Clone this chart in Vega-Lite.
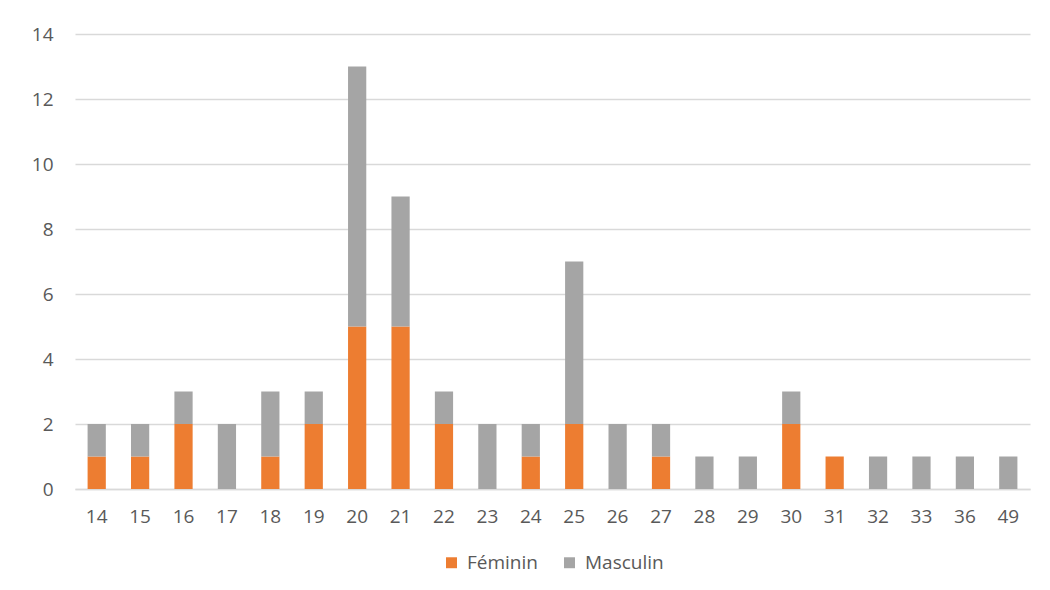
{
  "$schema": "https://vega.github.io/schema/vega-lite/v6.json",
  "autosize": "none",
  "width": 955,
  "height": 455,
  "padding": {"left": 75, "top": 34, "right": 20, "bottom": 101},
  "background": "white",
  "data": {
    "values": [
      {"age": "14", "sexe": "Féminin", "n": 1}, {"age": "14", "sexe": "Masculin", "n": 1},
      {"age": "15", "sexe": "Féminin", "n": 1}, {"age": "15", "sexe": "Masculin", "n": 1},
      {"age": "16", "sexe": "Féminin", "n": 2}, {"age": "16", "sexe": "Masculin", "n": 1},
      {"age": "17", "sexe": "Féminin", "n": 0}, {"age": "17", "sexe": "Masculin", "n": 2},
      {"age": "18", "sexe": "Féminin", "n": 1}, {"age": "18", "sexe": "Masculin", "n": 2},
      {"age": "19", "sexe": "Féminin", "n": 2}, {"age": "19", "sexe": "Masculin", "n": 1},
      {"age": "20", "sexe": "Féminin", "n": 5}, {"age": "20", "sexe": "Masculin", "n": 8},
      {"age": "21", "sexe": "Féminin", "n": 5}, {"age": "21", "sexe": "Masculin", "n": 4},
      {"age": "22", "sexe": "Féminin", "n": 2}, {"age": "22", "sexe": "Masculin", "n": 1},
      {"age": "23", "sexe": "Féminin", "n": 0}, {"age": "23", "sexe": "Masculin", "n": 2},
      {"age": "24", "sexe": "Féminin", "n": 1}, {"age": "24", "sexe": "Masculin", "n": 1},
      {"age": "25", "sexe": "Féminin", "n": 2}, {"age": "25", "sexe": "Masculin", "n": 5},
      {"age": "26", "sexe": "Féminin", "n": 0}, {"age": "26", "sexe": "Masculin", "n": 2},
      {"age": "27", "sexe": "Féminin", "n": 1}, {"age": "27", "sexe": "Masculin", "n": 1},
      {"age": "28", "sexe": "Féminin", "n": 0}, {"age": "28", "sexe": "Masculin", "n": 1},
      {"age": "29", "sexe": "Féminin", "n": 0}, {"age": "29", "sexe": "Masculin", "n": 1},
      {"age": "30", "sexe": "Féminin", "n": 2}, {"age": "30", "sexe": "Masculin", "n": 1},
      {"age": "31", "sexe": "Féminin", "n": 1}, {"age": "31", "sexe": "Masculin", "n": 0},
      {"age": "32", "sexe": "Féminin", "n": 0}, {"age": "32", "sexe": "Masculin", "n": 1},
      {"age": "33", "sexe": "Féminin", "n": 0}, {"age": "33", "sexe": "Masculin", "n": 1},
      {"age": "36", "sexe": "Féminin", "n": 0}, {"age": "36", "sexe": "Masculin", "n": 1},
      {"age": "49", "sexe": "Féminin", "n": 0}, {"age": "49", "sexe": "Masculin", "n": 1}
    ]
  },
  "mark": {"type": "bar"},
  "encoding": {
    "x": {
      "field": "age", "type": "ordinal", "sort": null,
      "scale": {"paddingInner": 0.58, "paddingOuter": 0.29},
      "axis": {"title": null, "labelAngle": 0, "ticks": false, "domainColor": "#d9d9d9", "domainWidth": 1.5, "labelPadding": 18, "labelFontSize": 19, "labelColor": "#595959", "labelFont": "Open Sans"}
    },
    "y": {
      "field": "n", "type": "quantitative", "stack": "zero",
      "scale": {"domain": [0, 14], "nice": false},
      "axis": {"title": null, "values": [0, 2, 4, 6, 8, 10, 12, 14], "domain": false, "ticks": false, "gridColor": "#d9d9d9", "gridWidth": 1.5, "labelPadding": 22, "labelFontSize": 19, "labelColor": "#595959", "labelFont": "Open Sans"}
    },
    "color": {
      "field": "sexe", "type": "nominal",
      "scale": {"domain": ["Féminin", "Masculin"], "range": ["#ED7D31", "#A5A5A5"]},
      "legend": {"title": null, "orient": "bottom", "direction": "horizontal", "offset": 27, "symbolType": "square", "symbolSize": 120, "symbolStrokeWidth": 0, "labelFontSize": 19, "labelColor": "#595959", "labelFont": "Open Sans", "columnPadding": 22, "labelOffset": 6}
    },
    "order": {"field": "sexe", "sort": "ascending"}
  },
  "config": {"view": {"stroke": null}, "legend": {"layout": {"bottom": {"anchor": "middle"}}}}
}
